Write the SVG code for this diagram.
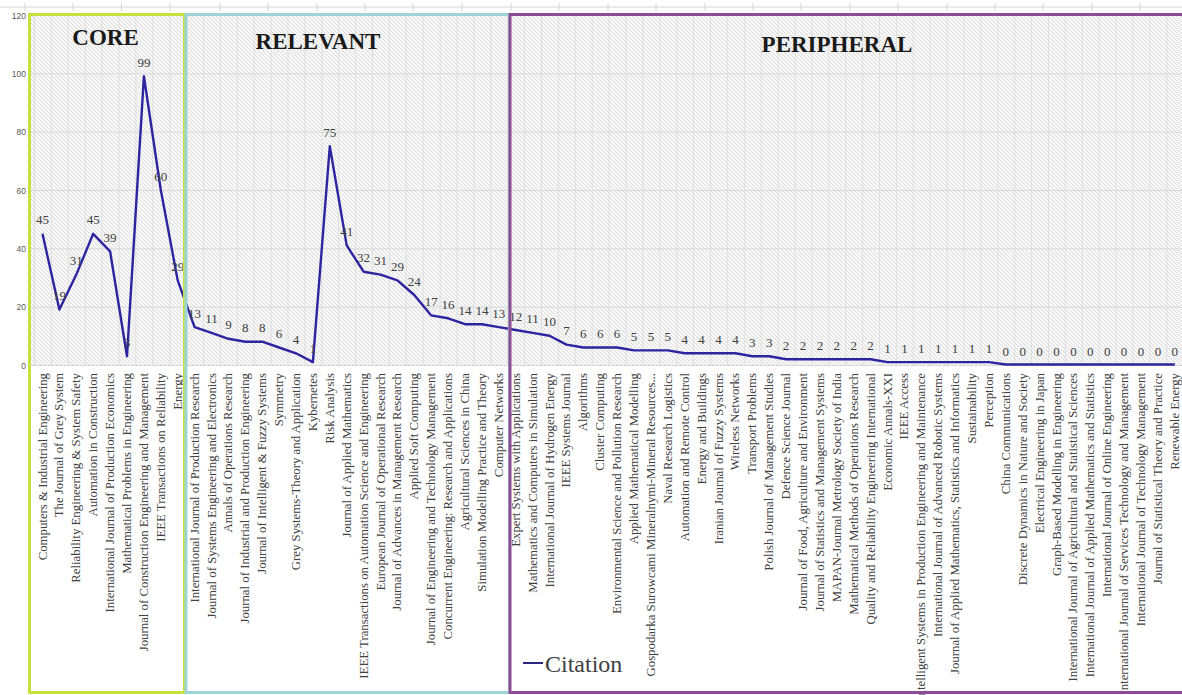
<svg xmlns="http://www.w3.org/2000/svg" width="1182" height="695" viewBox="0 0 1182 695">
<style>
.cat{font-family:"Liberation Serif","Times New Roman",serif;font-size:12.8px;fill:#404040;text-anchor:end}
.dl{font-family:"Liberation Serif","Times New Roman",serif;font-size:13px;fill:#404040;text-anchor:middle}
.ax{font-family:"Liberation Sans",Arial,sans-serif;font-size:8.5px;fill:#595959;text-anchor:end}
.title{font-family:"Liberation Serif","Times New Roman",serif;font-weight:bold;font-size:23px;fill:#1a1a1a;text-anchor:middle}
.grid{stroke:#d9d9d9;stroke-width:1;fill:none}
.box{fill:none;stroke-width:3}
</style>
<defs>
<pattern id="hatch" width="4" height="4" patternUnits="userSpaceOnUse">
<rect width="4" height="4" fill="#f7f7f7"/>
<path d="M-1,-1 L5,5 M-1,3 L1,5 M3,-1 L5,1" stroke="#dadada" stroke-width="0.9"/>
</pattern>
<pattern id="vgrid" x="34" y="0" width="16.9" height="400" patternUnits="userSpaceOnUse">
<line x1="0.5" y1="0" x2="0.5" y2="400" stroke="#dedede" stroke-width="1"/>
</pattern>
</defs>
<rect width="1182" height="695" fill="#ffffff"/>
<g id="sheet-top" stroke="#d4d4d4" stroke-width="1">
<line x1="0" y1="7" x2="1182" y2="7"/>
<path d="M25,3V11M73,3V11M121.5,3V11M170,3V11M220,3V11M268,3V11M317,3V11M365,3V11M413,3V11M462,3V11M511,3V11M559,3V11M608,3V11M656,3V11M705,3V11M753,3V11M801,3V11M850,3V11M898,3V11M947,3V11M995,3V11M1043,3V11M1092,3V11M1140,3V11"/>
</g>
<g id="plot-area">
<rect x="31" y="15" width="1151" height="350" fill="url(#hatch)"/>
<rect x="34" y="15" width="1148" height="350" fill="url(#vgrid)"/>
<path class="grid" d="M31,15.5H1182M31,73.8H1182M31,132.2H1182M31,190.5H1182M31,248.8H1182M31,307.2H1182M31,365.5H1182"/>
</g>
<g id="y-axis">
<text class="ax" x="26" y="19">120</text>
<text class="ax" x="26" y="77">100</text>
<text class="ax" x="26" y="135">80</text>
<text class="ax" x="26" y="193.5">60</text>
<text class="ax" x="26" y="252">40</text>
<text class="ax" x="26" y="310">20</text>
<text class="ax" x="26" y="368.5">0</text>
</g>
<g id="connectors">
<polyline fill="none" stroke="#2d25a0" stroke-width="2.4" stroke-linejoin="round" points="42.5,233.8 59.4,309.6 76.3,274.6 93.2,233.8 110.1,251.3 127,356.3 143.9,76.3 160.8,190 177.7,280.4 194.6,327.1 211.5,332.9 228.4,338.8 245.3,341.7 262.2,341.7 279.1,347.5 296,353.3 312.9,362.1 329.8,146.3 346.7,245.4 363.6,271.7 380.5,274.6 397.4,280.4 414.3,295 431.2,315.4 448.1,318.3 465,324.2 481.9,324.2 498.8,327.1 515.7,330 532.6,332.9 549.5,335.8 566.4,344.6 583.3,347.5 600.2,347.5 617.1,347.5 634,350.4 650.9,350.4 667.8,350.4 684.7,353.3 701.6,353.3 718.5,353.3 735.4,353.3 752.3,356.3 769.2,356.3 786.1,359.2 803,359.2 819.9,359.2 836.8,359.2 853.7,359.2 870.6,359.2 887.5,362.1 904.4,362.1 921.3,362.1 938.2,362.1 955.1,362.1 972,362.1 988.9,362.1 1005.8,364.5 1022.7,364.5 1039.6,364.5 1056.5,364.5 1073.4,364.5 1090.3,364.5 1107.2,364.5 1124.1,364.5 1141,364.5 1157.9,364.5 1174.8,364.5"/>
</g>
<g id="data-labels">
<text class="dl" x="42.5" y="224.3">45</text>
<text class="dl" x="59.4" y="300.1">19</text>
<text class="dl" x="76.3" y="265.1">31</text>
<text class="dl" x="93.2" y="224.3">45</text>
<text class="dl" x="110.1" y="241.8">39</text>
<text class="dl" x="127" y="346.8">3</text>
<text class="dl" x="143.9" y="66.8">99</text>
<text class="dl" x="160.8" y="180.5">60</text>
<text class="dl" x="177.7" y="270.9">29</text>
<text class="dl" x="194.6" y="317.6">13</text>
<text class="dl" x="211.5" y="323.4">11</text>
<text class="dl" x="228.4" y="329.3">9</text>
<text class="dl" x="245.3" y="332.2">8</text>
<text class="dl" x="262.2" y="332.2">8</text>
<text class="dl" x="279.1" y="338">6</text>
<text class="dl" x="296" y="343.8">4</text>
<text class="dl" x="312.9" y="352.6">1</text>
<text class="dl" x="329.8" y="136.8">75</text>
<text class="dl" x="346.7" y="235.9">41</text>
<text class="dl" x="363.6" y="262.2">32</text>
<text class="dl" x="380.5" y="265.1">31</text>
<text class="dl" x="397.4" y="270.9">29</text>
<text class="dl" x="414.3" y="285.5">24</text>
<text class="dl" x="431.2" y="305.9">17</text>
<text class="dl" x="448.1" y="308.8">16</text>
<text class="dl" x="465" y="314.7">14</text>
<text class="dl" x="481.9" y="314.7">14</text>
<text class="dl" x="498.8" y="317.6">13</text>
<text class="dl" x="515.7" y="320.5">12</text>
<text class="dl" x="532.6" y="323.4">11</text>
<text class="dl" x="549.5" y="326.3">10</text>
<text class="dl" x="566.4" y="335.1">7</text>
<text class="dl" x="583.3" y="338">6</text>
<text class="dl" x="600.2" y="338">6</text>
<text class="dl" x="617.1" y="338">6</text>
<text class="dl" x="634" y="340.9">5</text>
<text class="dl" x="650.9" y="340.9">5</text>
<text class="dl" x="667.8" y="340.9">5</text>
<text class="dl" x="684.7" y="343.8">4</text>
<text class="dl" x="701.6" y="343.8">4</text>
<text class="dl" x="718.5" y="343.8">4</text>
<text class="dl" x="735.4" y="343.8">4</text>
<text class="dl" x="752.3" y="346.8">3</text>
<text class="dl" x="769.2" y="346.8">3</text>
<text class="dl" x="786.1" y="349.7">2</text>
<text class="dl" x="803" y="349.7">2</text>
<text class="dl" x="819.9" y="349.7">2</text>
<text class="dl" x="836.8" y="349.7">2</text>
<text class="dl" x="853.7" y="349.7">2</text>
<text class="dl" x="870.6" y="349.7">2</text>
<text class="dl" x="887.5" y="352.6">1</text>
<text class="dl" x="904.4" y="352.6">1</text>
<text class="dl" x="921.3" y="352.6">1</text>
<text class="dl" x="938.2" y="352.6">1</text>
<text class="dl" x="955.1" y="352.6">1</text>
<text class="dl" x="972" y="352.6">1</text>
<text class="dl" x="988.9" y="352.6">1</text>
<text class="dl" x="1005.8" y="355.5">0</text>
<text class="dl" x="1022.7" y="355.5">0</text>
<text class="dl" x="1039.6" y="355.5">0</text>
<text class="dl" x="1056.5" y="355.5">0</text>
<text class="dl" x="1073.4" y="355.5">0</text>
<text class="dl" x="1090.3" y="355.5">0</text>
<text class="dl" x="1107.2" y="355.5">0</text>
<text class="dl" x="1124.1" y="355.5">0</text>
<text class="dl" x="1141" y="355.5">0</text>
<text class="dl" x="1157.9" y="355.5">0</text>
<text class="dl" x="1174.8" y="355.5">0</text>
</g>
<g id="category-labels">
<text class="cat" transform="translate(46.5,373) rotate(-90)">Computers &amp; Industrial Engineering</text>
<text class="cat" transform="translate(63.4,373) rotate(-90)">The Journal of Grey System</text>
<text class="cat" transform="translate(80.3,373) rotate(-90)">Reliability Engineering &amp; System Safety</text>
<text class="cat" transform="translate(97.2,373) rotate(-90)">Automation in Construction</text>
<text class="cat" transform="translate(114.1,373) rotate(-90)">International Journal of Production Economics</text>
<text class="cat" transform="translate(131,373) rotate(-90)">Mathematical Problems in Engineering</text>
<text class="cat" transform="translate(147.9,373) rotate(-90)">Journal of Construction Engineering and Management</text>
<text class="cat" transform="translate(164.8,373) rotate(-90)">IEEE Transactions on Reliability</text>
<text class="cat" transform="translate(181.7,373) rotate(-90)">Energy</text>
<text class="cat" transform="translate(198.6,373) rotate(-90)">International Journal of Production Research</text>
<text class="cat" transform="translate(215.5,373) rotate(-90)">Journal of Systems Engineering and Electronics</text>
<text class="cat" transform="translate(232.4,373) rotate(-90)">Annals of Operations Research</text>
<text class="cat" transform="translate(249.3,373) rotate(-90)">Journal of Industrial and Production Engineering</text>
<text class="cat" transform="translate(266.2,373) rotate(-90)">Journal of Intelligent &amp; Fuzzy Systems</text>
<text class="cat" transform="translate(283.1,373) rotate(-90)">Symmetry</text>
<text class="cat" transform="translate(300,373) rotate(-90)">Grey Systems-Theory and Application</text>
<text class="cat" transform="translate(316.9,373) rotate(-90)">Kybernetes</text>
<text class="cat" transform="translate(333.8,373) rotate(-90)">Risk Analysis</text>
<text class="cat" transform="translate(350.7,373) rotate(-90)">Journal of Applied Mathematics</text>
<text class="cat" transform="translate(367.6,373) rotate(-90)">IEEE Transactions on Automation Science and Engineering</text>
<text class="cat" transform="translate(384.5,373) rotate(-90)">European Journal of Operational Research</text>
<text class="cat" transform="translate(401.4,373) rotate(-90)">Journal of Advances in Management Research</text>
<text class="cat" transform="translate(418.3,373) rotate(-90)">Applied Soft Computing</text>
<text class="cat" transform="translate(435.2,373) rotate(-90)">Journal of Engineering and Technology Management</text>
<text class="cat" transform="translate(452.1,373) rotate(-90)">Concurrent Engineering: Research and Applications</text>
<text class="cat" transform="translate(469,373) rotate(-90)">Agricultural Sciences in China</text>
<text class="cat" transform="translate(485.9,373) rotate(-90)">Simulation Modelling Practice and Theory</text>
<text class="cat" transform="translate(502.8,373) rotate(-90)">Computer Networks</text>
<text class="cat" transform="translate(519.7,373) rotate(-90)">Expert Systems with Applications</text>
<text class="cat" transform="translate(536.6,373) rotate(-90)">Mathematics and Computers in Simulation</text>
<text class="cat" transform="translate(553.5,373) rotate(-90)">International Journal of Hydrogen Energy</text>
<text class="cat" transform="translate(570.4,373) rotate(-90)">IEEE Systems Journal</text>
<text class="cat" transform="translate(587.3,373) rotate(-90)">Algorithms</text>
<text class="cat" transform="translate(604.2,373) rotate(-90)">Cluster Computing</text>
<text class="cat" transform="translate(621.1,373) rotate(-90)">Environmental Science and Pollution Research</text>
<text class="cat" transform="translate(638,373) rotate(-90)">Applied Mathematical Modelling</text>
<text class="cat" transform="translate(654.9,373) rotate(-90)">Gospodarka Surowcami Mineralnymi-Mineral Resources...</text>
<text class="cat" transform="translate(671.8,373) rotate(-90)">Naval Research Logistics</text>
<text class="cat" transform="translate(688.7,373) rotate(-90)">Automation and Remote Control</text>
<text class="cat" transform="translate(705.6,373) rotate(-90)">Energy and Buildings</text>
<text class="cat" transform="translate(722.5,373) rotate(-90)">Iranian Journal of Fuzzy Systems</text>
<text class="cat" transform="translate(739.4,373) rotate(-90)">Wireless Networks</text>
<text class="cat" transform="translate(756.3,373) rotate(-90)">Transport Problems</text>
<text class="cat" transform="translate(773.2,373) rotate(-90)">Polish Journal of Management Studies</text>
<text class="cat" transform="translate(790.1,373) rotate(-90)">Defence Science Journal</text>
<text class="cat" transform="translate(807,373) rotate(-90)">Journal of Food, Agriculture and Environment</text>
<text class="cat" transform="translate(823.9,373) rotate(-90)">Journal of Statistics and Management Systems</text>
<text class="cat" transform="translate(840.8,373) rotate(-90)">MAPAN-Journal Metrology Society of India</text>
<text class="cat" transform="translate(857.7,373) rotate(-90)">Mathematical Methods of Operations Research</text>
<text class="cat" transform="translate(874.6,373) rotate(-90)">Quality and Reliability Engineering International</text>
<text class="cat" transform="translate(891.5,373) rotate(-90)">Economic Annals-XXI</text>
<text class="cat" transform="translate(908.4,373) rotate(-90)">IEEE Access</text>
<text class="cat" transform="translate(925.3,373) rotate(-90)">ntelligent Systems in Production Engineering and Maintenance</text>
<text class="cat" transform="translate(942.2,373) rotate(-90)">International Journal of Advanced Robotic Systems</text>
<text class="cat" transform="translate(959.1,373) rotate(-90)">Journal of Applied Mathematics, Statistics and Informatics</text>
<text class="cat" transform="translate(976,373) rotate(-90)">Sustainability</text>
<text class="cat" transform="translate(992.9,373) rotate(-90)">Perception</text>
<text class="cat" transform="translate(1009.8,373) rotate(-90)">China Communications</text>
<text class="cat" transform="translate(1026.7,373) rotate(-90)">Discrete Dynamics in Nature and Society</text>
<text class="cat" transform="translate(1043.6,373) rotate(-90)">Electrical Engineering in Japan</text>
<text class="cat" transform="translate(1060.5,373) rotate(-90)">Graph-Based Modelling in Engineering</text>
<text class="cat" transform="translate(1077.4,373) rotate(-90)">International Journal of Agricultural and Statistical Sciences</text>
<text class="cat" transform="translate(1094.3,373) rotate(-90)">International Journal of Applied Mathematics and Statistics</text>
<text class="cat" transform="translate(1111.2,373) rotate(-90)">International Journal of Online Engineering</text>
<text class="cat" transform="translate(1128.1,373) rotate(-90)">International Journal of Services Technology and Management</text>
<text class="cat" transform="translate(1145,373) rotate(-90)">International Journal of Technology Management</text>
<text class="cat" transform="translate(1161.9,373) rotate(-90)">Journal of Statistical Theory and Practice</text>
<text class="cat" transform="translate(1178.8,373) rotate(-90)">Renewable Energy</text>
</g>
<g id="legend">
<line x1="523" y1="663" x2="543" y2="663" stroke="#2a2580" stroke-width="2"/>
<text x="545" y="672" style="font-family:'Liberation Serif','Times New Roman',serif;font-size:24px;fill:#404040">Citation</text>
</g>
<g id="core">
<rect class="box" x="29.5" y="14.5" width="155" height="678" stroke="#c6e03c"/>
<text class="title" x="105.5" y="45">CORE</text>
</g>
<g id="relevant">
<rect class="box" x="186" y="14.5" width="323.5" height="678" stroke="#9dd4d8"/>
<text class="title" x="318" y="49">RELEVANT</text>
</g>
<g id="peripheral">
<rect class="box" x="510" y="14.5" width="680" height="678" stroke="#8c4c93"/>
<text class="title" x="837" y="52">PERIPHERAL</text>
</g>
</svg>
